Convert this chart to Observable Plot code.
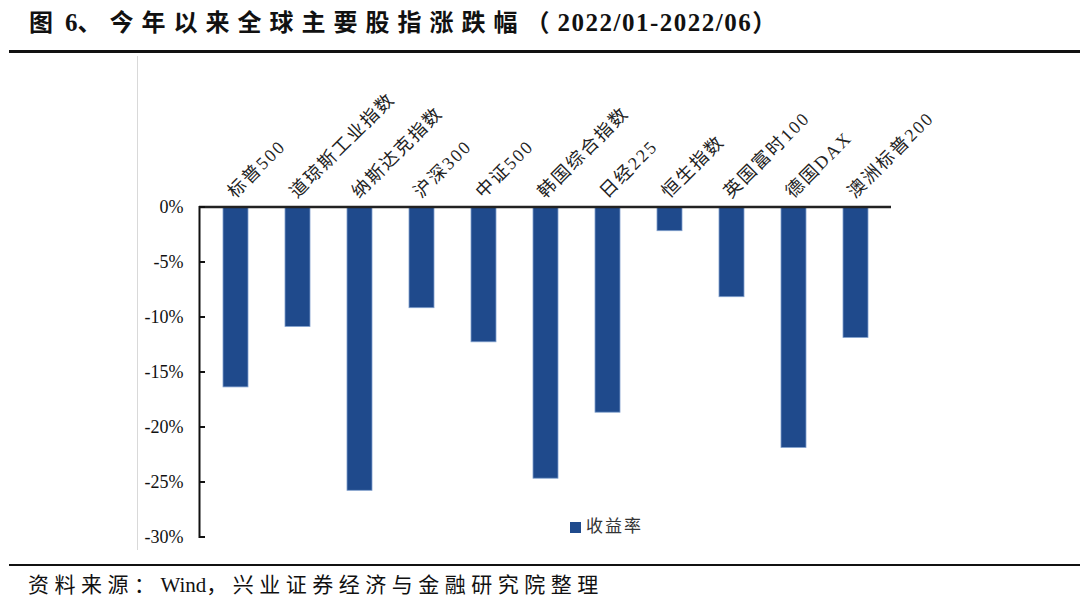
<!DOCTYPE html>
<html>
<head>
<meta charset="utf-8">
<script src="https://cdn.jsdelivr.net/npm/d3@7"></script>
<script src="https://cdn.jsdelivr.net/npm/@observablehq/plot@0.6"></script>
<style>
  html, body { margin: 0; padding: 0; background: #fff; }
  #page { position: relative; width: 1080px; height: 603px; overflow: hidden; font-family: "Liberation Serif", "Noto Sans CJK SC", serif; color: #111; }
  #title { position: absolute; left: 29px; top: 9px; font-size: 24px; line-height: 28px; font-weight: bold; letter-spacing: 8px; white-space: nowrap; }
  #title .lat { letter-spacing: 1.5px; font-size: 25px; }
  .rule { position: absolute; left: 9px; width: 1071px; background: #111; }
  #border { position: absolute; left: 137px; top: 56px; width: 1px; height: 494px; background: #d9d9d9; }
  #chart { position: absolute; left: 0; top: 55px; }
  #legend { position: absolute; left: 570px; top: 515px; font-size: 17px; line-height: 24px; letter-spacing: 2px; white-space: nowrap; color: #333; }
  #legend .sw { display: inline-block; width: 11px; height: 11px; background: #1f4a8c; margin-right: 5px; vertical-align: -1px; }
  #caption { position: absolute; left: 28px; top: 571px; font-size: 21px; line-height: 28px; letter-spacing: 5.5px; white-space: nowrap; }
  #caption .lat { letter-spacing: 0; }
</style>
</head>
<body>
<div id="page">
  <div id="title">图<span class="lat" style="margin-left:4px;letter-spacing:0">6</span>、今年以来全球主要股指涨跌幅（<span class="lat">2022/01-2022/06</span>）</div>
  <div class="rule" style="top:50px;height:2.5px;"></div>
  <div id="border"></div>
  <div id="chart"></div>
  <div id="legend"><span class="sw"></span>收益率</div>
  <div class="rule" style="top:564px;height:2px;"></div>
  <div id="caption">资料来源：<span class="lat">Wind</span>，兴业证券经济与金融研究院整理</div>
</div>
<script>
const categories = ["标普500", "道琼斯工业指数", "纳斯达克指数", "沪深300", "中证500", "韩国综合指数", "日经225", "恒生指数", "英国富时100", "德国DAX", "澳洲标普200"];
const returns = [-16.4, -10.9, -25.8, -9.2, -12.3, -24.7, -18.7, -2.2, -8.2, -21.9, -11.9];
const yTicks = [0, -5, -10, -15, -20, -25, -30];
const seriesName = "收益率";

const data = categories.map((c, i) => ({name: c, value: returns[i], series: seriesName}));
const font = "'Liberation Serif', 'Noto Sans CJK SC', serif";

const chart = Plot.plot({
  width: 1080,
  height: 500,
  marginLeft: 199,
  marginRight: 189,
  marginTop: 151.5,
  marginBottom: 18.5,
  x: {domain: categories, paddingInner: 0.6, paddingOuter: 0.3, axis: null},
  y: {domain: [-30, 0], axis: null, label: null},
  style: {fontFamily: font, background: "transparent", color: "#111"},
  marks: [
    Plot.barY(data, {x: "name", y: "value", fill: "#1f4a8c", stroke: "#7f9fcc", strokeWidth: 0.8}),
    Plot.frame({anchor: "left", stroke: "#111", strokeWidth: 2}),
    Plot.ruleY([0], {stroke: "#222", strokeWidth: 2.5}),
    Plot.axisY(yTicks, {label: null, tickSize: 0, tickPadding: 16, tickFormat: d => d + "%", fontSize: 18, fontFamily: font, fill: "#111"}),
    Plot.axisY(yTicks, {label: null, tickSize: 6, dx: 6, tickFormat: () => "", stroke: "#111", strokeWidth: 2}),
    Plot.text(data, {x: "name", y: 0, text: "name", rotate: -45, textAnchor: "start", dx: -5, dy: -12, fontSize: 18, fontFamily: font, fill: "#222"})
  ]
});
document.getElementById("chart").appendChild(chart);
d3.select(chart).selectAll("g[aria-label='text'] text").attr("letter-spacing", 2);
</script>
</body>
</html>
